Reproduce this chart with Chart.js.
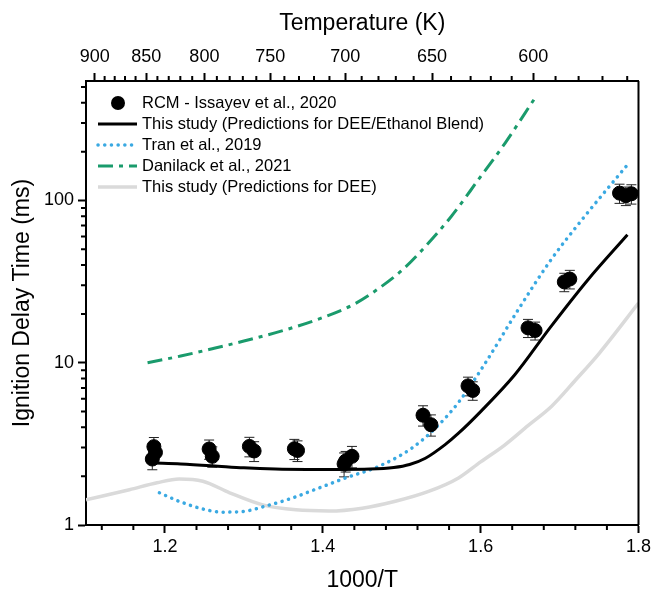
<!DOCTYPE html>
<html>
<head>
<meta charset="utf-8">
<title>Ignition delay times</title>
<script src="https://cdn.jsdelivr.net/npm/chart.js@4.4.1/dist/chart.umd.min.js"></script>
<style>
  html, body { margin: 0; padding: 0; background: #fff; }
  #wrap { width: 654px; height: 594px; }
</style>
</head>
<body>
<div id="wrap"><canvas id="idtChart" width="654" height="594"></canvas></div>
<script>
// RCM measurements, Issayev et al. 2020 (1000/T, IDT in ms, error bar in ms)
const rcmX = [1.186, 1.188, 1.184, 1.256, 1.260, 1.307, 1.313, 1.364, 1.368, 1.427, 1.429, 1.437,
              1.527, 1.537, 1.584, 1.590, 1.660, 1.669, 1.706, 1.713, 1.776, 1.784, 1.791];
const rcmY = [3.04, 2.80, 2.55, 2.94, 2.65, 3.05, 2.86, 2.95, 2.88, 2.38, 2.48, 2.65,
              4.75, 4.15, 7.20, 6.75, 16.4, 15.8, 31.5, 32.8, 111, 107, 110];
const rcmErr = [0.42, 0.38, 0.36, 0.40, 0.38, 0.42, 0.40, 0.42, 0.42, 0.40, 0.36, 0.40,
                0.68, 0.62, 0.95, 0.88, 2.1, 2.0, 4.1, 4.3, 15, 14, 15];

// This study, DEE/ethanol blend
const blendX = [1.186, 1.22, 1.26, 1.30, 1.34, 1.38, 1.42, 1.46, 1.49, 1.51, 1.53, 1.555, 1.572, 1.60, 1.643, 1.689, 1.736, 1.786];
const blendY = [2.41, 2.38, 2.32, 2.25, 2.21, 2.20, 2.20, 2.21, 2.26, 2.36, 2.58, 3.13, 3.68, 5.0, 8.4, 16.7, 32.5, 61.5];

// Tran et al. 2019
const tranX = [1.193, 1.218, 1.244, 1.273, 1.298, 1.328, 1.362, 1.395, 1.429, 1.471, 1.513, 1.546, 1.572, 1.605, 1.647, 1.689, 1.732, 1.786];
const tranY = [1.58, 1.40, 1.27, 1.20, 1.21, 1.31, 1.47, 1.69, 1.95, 2.30, 2.98, 4.1, 5.7, 9.8, 21, 43, 80, 166];

// Danilack et al. 2021
const danX = [1.178, 1.22, 1.26, 1.30, 1.35, 1.40, 1.44, 1.47, 1.50, 1.525, 1.563, 1.597, 1.631, 1.668];
const danY = [10.0, 11.0, 12.2, 13.6, 15.8, 19.0, 23.0, 28.5, 37, 49, 80, 134, 226, 422];

// This study, neat DEE
const deeX = [1.10, 1.155, 1.19, 1.218, 1.248, 1.282, 1.324, 1.366, 1.408, 1.45, 1.492, 1.534, 1.572, 1.60, 1.63, 1.66, 1.69, 1.72, 1.75, 1.80];
const deeY = [1.43, 1.65, 1.82, 1.92, 1.86, 1.58, 1.33, 1.24, 1.22, 1.27, 1.40, 1.61, 1.95, 2.45, 3.1, 4.1, 5.4, 7.8, 11.4, 23.3];

// axis ticks
const xTicks = [1.2, 1.4, 1.6, 1.8];
const xMinorTicks = [1.12, 1.16, 1.24, 1.28, 1.32, 1.36, 1.44, 1.48, 1.52, 1.56, 1.64, 1.68, 1.72, 1.76];
const yTicks = [1, 10, 100];
const yMinorTicks = [2, 3, 4, 5, 6, 7, 8, 9, 20, 30, 40, 50, 60, 70, 80, 90, 200, 300, 400, 500];
const tempTicks = [900, 850, 800, 750, 700, 650, 600];
const tempMinorTicks = [890, 880, 870, 860, 840, 830, 820, 810, 790, 780, 770, 760, 740, 730, 720, 710,
                        690, 680, 670, 660, 640, 630, 620, 610, 590, 580, 570, 560];

const FONT = "'Liberation Sans', Arial, sans-serif";
Chart.defaults.font.family = FONT;
Chart.defaults.color = '#000';

const pts = (xs, ys) => xs.map((x, i) => ({ x: x, y: ys[i] }));

// error bars under the markers
const errorBars = {
  id: 'errorBars',
  beforeDatasetsDraw(chart) {
    const ctx = chart.ctx, xs = chart.scales.x, ys = chart.scales.y;
    ctx.save();
    ctx.strokeStyle = '#222';
    ctx.lineWidth = 1;
    rcmX.forEach((x, i) => {
      const px = xs.getPixelForValue(x);
      const top = ys.getPixelForValue(rcmY[i] + rcmErr[i]);
      const bot = ys.getPixelForValue(rcmY[i] - rcmErr[i]);
      ctx.beginPath();
      ctx.moveTo(px, top); ctx.lineTo(px, bot);
      ctx.moveTo(px - 5, top); ctx.lineTo(px + 5, top);
      ctx.moveTo(px - 5, bot); ctx.lineTo(px + 5, bot);
      ctx.stroke();
    });
    ctx.restore();
  }
};

// minor ticks, right frame and the legend inside the plot
const frameAndLegend = {
  id: 'frameAndLegend',
  afterDraw(chart) {
    const ctx = chart.ctx, a = chart.chartArea;
    const xs = chart.scales.x, ys = chart.scales.y, xt = chart.scales.xTop;
    ctx.save();
    ctx.strokeStyle = '#000';
    ctx.lineWidth = 2;
    ctx.beginPath();
    ctx.moveTo(a.right, a.top); ctx.lineTo(a.right, a.bottom);
    xMinorTicks.forEach(v => {
      const p = xs.getPixelForValue(v);
      ctx.moveTo(p, a.bottom); ctx.lineTo(p, a.bottom + 5);
    });
    yMinorTicks.forEach(v => {
      const p = ys.getPixelForValue(v);
      ctx.moveTo(a.left, p); ctx.lineTo(a.left - 5, p);
    });
    tempMinorTicks.forEach(t => {
      const p = xt.getPixelForValue(1000 / t);
      ctx.moveTo(p, a.top); ctx.lineTo(p, a.top - 5);
    });
    ctx.stroke();

    // legend
    const x0 = 98, x1 = 137, tx = 142, y0 = 103, dy = 21;
    ctx.font = '16.5px ' + FONT;
    ctx.textBaseline = 'middle';
    ctx.textAlign = 'left';
    chart.data.datasets.forEach((ds, i) => {
      const y = y0 + i * dy;
      ctx.save();
      if (ds.showLine === false) {
        ctx.fillStyle = ds.backgroundColor;
        ctx.beginPath();
        ctx.arc(118, y, ds.pointRadius, 0, Math.PI * 2);
        ctx.fill();
      } else {
        ctx.strokeStyle = ds.borderColor;
        ctx.lineWidth = ds.borderWidth;
        ctx.lineCap = ds.borderCapStyle || 'butt';
        ctx.setLineDash(ds.borderDash || []);
        ctx.beginPath();
        ctx.moveTo(x0, y); ctx.lineTo(x1, y);
        ctx.stroke();
      }
      ctx.restore();
      ctx.fillStyle = '#000';
      ctx.fillText(ds.label, tx, y);
    });
    ctx.restore();
  }
};

const lineDefaults = { showLine: true, pointRadius: 0, fill: false, cubicInterpolationMode: 'monotone' };

new Chart(document.getElementById('idtChart'), {
  type: 'scatter',
  data: {
    datasets: [
      { label: 'RCM - Issayev et al., 2020', data: pts(rcmX, rcmY), showLine: false,
        pointRadius: 7, pointHoverRadius: 7, backgroundColor: '#000', borderColor: '#000', order: 0 },
      Object.assign({ label: 'This study (Predictions for DEE/Ethanol Blend)', data: pts(blendX, blendY),
        borderColor: '#000', borderWidth: 3, order: 1 }, lineDefaults),
      Object.assign({ label: 'Tran et al., 2019', data: pts(tranX, tranY),
        borderColor: '#3aa9e2', borderWidth: 3.5, borderDash: [0.1, 6.6], borderCapStyle: 'round', order: 2 }, lineDefaults),
      Object.assign({ label: 'Danilack et al., 2021', data: pts(danX, danY),
        borderColor: '#1a9b6c', borderWidth: 3, borderDash: [15, 6, 4, 6], order: 3 }, lineDefaults),
      Object.assign({ label: 'This study (Predictions for DEE)', data: pts(deeX, deeY),
        borderColor: '#dadada', borderWidth: 3.5, order: 4 }, lineDefaults)
    ]
  },
  options: {
    responsive: false,
    animation: false,
    layout: { padding: { left: 0, right: 13, top: 0, bottom: 0 } },
    plugins: { legend: { display: false }, tooltip: { enabled: false } },
    scales: {
      x: {
        type: 'linear', position: 'bottom', min: 1.1, max: 1.8,
        afterBuildTicks: s => { s.ticks = xTicks.map(v => ({ value: v })); },
        afterFit: s => { s.height = 69; },
        ticks: { callback: v => v.toFixed(1), font: { size: 18 }, color: '#000', padding: 3, maxRotation: 0, autoSkip: false },
        grid: { drawOnChartArea: false, tickLength: 8, tickWidth: 2, tickColor: '#000' },
        border: { color: '#000', width: 2 },
        title: { display: true, text: '1000/T', font: { size: 23 }, color: '#000', padding: { top: 0, bottom: 0 } }
      },
      xTop: {
        type: 'linear', position: 'top', min: 1.1, max: 1.8,
        afterBuildTicks: s => { s.ticks = tempTicks.map(t => ({ value: 1000 / t })); },
        afterFit: s => { s.height = 81; },
        ticks: { callback: v => String(Math.round(1000 / v)), font: { size: 18 }, color: '#000', padding: 5, maxRotation: 0, autoSkip: false },
        grid: { drawOnChartArea: false, tickLength: 8, tickWidth: 2, tickColor: '#000' },
        border: { color: '#000', width: 2 },
        title: { display: true, text: 'Temperature (K)', font: { size: 23 }, color: '#000', padding: { top: 10, bottom: 0 } }
      },
      y: {
        type: 'logarithmic', position: 'left', min: 1, max: 545,
        afterBuildTicks: s => { s.ticks = yTicks.map(v => ({ value: v })); },
        afterFit: s => { s.width = 86; },
        ticks: { callback: v => String(v), font: { size: 18 }, color: '#000', padding: 4, autoSkip: false },
        grid: { drawOnChartArea: false, tickLength: 8, tickWidth: 2, tickColor: '#000' },
        border: { color: '#000', width: 2 },
        title: { display: true, text: 'Ignition Delay Time (ms)', font: { size: 23 }, color: '#000', padding: { top: 9, bottom: 0 } }
      }
    }
  },
  plugins: [errorBars, frameAndLegend]
});
</script>
</body>
</html>
